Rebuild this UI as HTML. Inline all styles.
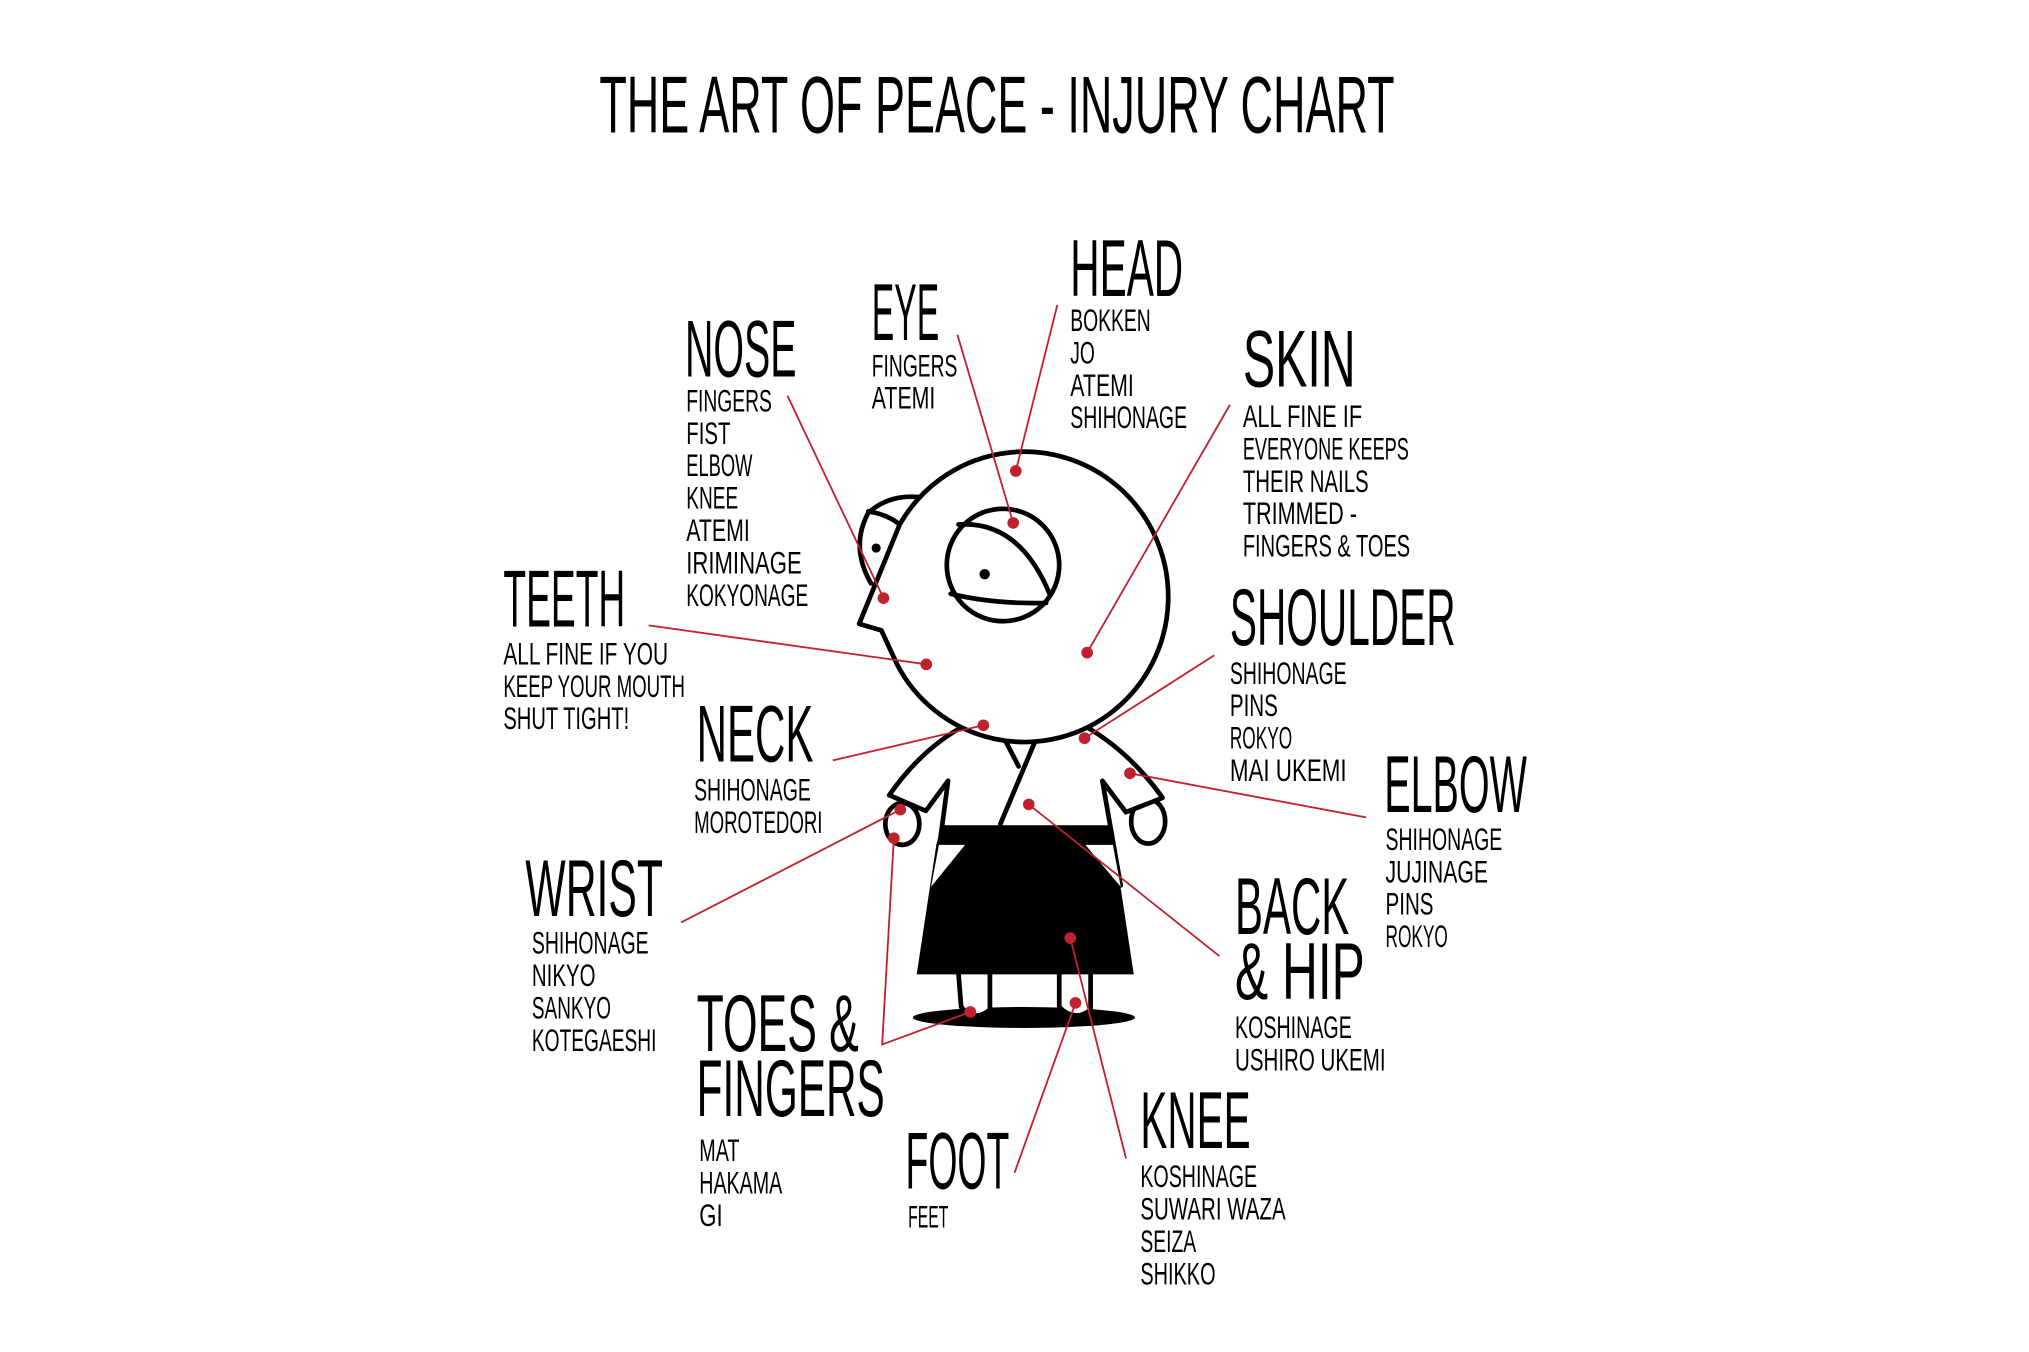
<!DOCTYPE html>
<html><head><meta charset="utf-8"><style>
html,body{margin:0;padding:0;background:#fff;}
svg{display:block;}
text{font-family:"Liberation Sans",sans-serif;fill:#000;}
.b{font-size:62px;}
.s{font-size:24px;}
</style></head><body>
<svg width="2029" height="1352" viewBox="0 0 1564 1042" xmlns="http://www.w3.org/2000/svg">
<rect width="1564" height="1042" fill="#fff"/>
<text class="b" x="462" y="102" textLength="613" lengthAdjust="spacingAndGlyphs">THE ART OF PEACE - INJURY CHART</text>

<!-- figure -->
<g transform="scale(1.008)" fill="none" stroke="#000" stroke-width="3.6" stroke-linejoin="round" stroke-linecap="round">
 <ellipse cx="783" cy="778" rx="85" ry="8" fill="#000" stroke="none"/>
 <!-- legs -->
 <path d="M733,745 L735,770 Q745,782 757,772 L757,745" fill="#fff"/>
 <path d="M810,745 L810,770 Q822,782 834,772 L834,745" fill="#fff"/>
 <!-- hands -->
 <ellipse cx="690" cy="630" rx="13" ry="16" fill="#fff"/>
 <ellipse cx="878" cy="628" rx="13" ry="17" fill="#fff"/>
 <!-- gi -->
 <path d="M739,554 Q705,572 680,608 L708,620 L725,597 L714,680 L857,677 L843,597 L861,621 L889,610 Q862,572 824,552 Z" fill="#fff"/>
 <path d="M766,561 L779,586 M794,561 L765,630"/>
 <!-- hakama -->
 <path d="M720,631 L849,631 L852,646 L867,745 L701,745 L716,646 Z" fill="#000" stroke="none"/>
 <path d="M718,646 L738,646 L712,678 Z" fill="#fff" stroke="none"/>
 <path d="M830,646 L851,646 L857,678 Z" fill="#fff" stroke="none"/>
 <!-- ear -->
 <path d="M702,380 Q680,378 664,392 Q650,418 666,446" fill="#fff"/>
 <path d="M664,391 Q678,393 688,401"/>
 <circle cx="670" cy="419" r="3.5" fill="#000" stroke="none"/>
 <!-- head -->
 <path d="M688,401 A110 111 0 1 1 686,508 L674,482 L657,477 Z" fill="#fff"/>
 <!-- eye -->
 <ellipse cx="767" cy="432" rx="43" ry="43" fill="#fff"/>
 <path d="M733,401 Q780,398 803,455"/>
 <path d="M727,454 Q760,462 800,461"/>
 <circle cx="753" cy="439" r="4" fill="#000" stroke="none"/>
</g>

<!-- connectors -->
<g stroke="#c0212f" stroke-width="1.4" fill="none">
 <line x1="783" y1="363" x2="815" y2="235"/>
 <line x1="781" y1="403" x2="738" y2="258"/>
 <line x1="681" y1="461" x2="607" y2="305"/>
 <line x1="838" y1="503" x2="948" y2="312"/>
 <line x1="714" y1="512" x2="500" y2="482"/>
 <line x1="758" y1="559" x2="642" y2="586"/>
 <line x1="836" y1="569" x2="936" y2="505"/>
 <line x1="871" y1="596" x2="1053" y2="630"/>
 <line x1="793" y1="620" x2="940" y2="737"/>
 <line x1="694" y1="624" x2="525" y2="711"/>
 <polyline points="689,646 680,805 748,780"/>
 <line x1="829" y1="773" x2="782" y2="904"/>
 <line x1="825" y1="723" x2="868" y2="893"/>
</g>
<g fill="#c0212f">
 <circle cx="783" cy="363" r="4.5"/><circle cx="781" cy="403" r="4.5"/>
 <circle cx="681" cy="461" r="4.5"/><circle cx="838" cy="503" r="4.5"/>
 <circle cx="714" cy="512" r="4.5"/><circle cx="758" cy="559" r="4.5"/>
 <circle cx="836" cy="569" r="4.5"/><circle cx="871" cy="596" r="4.5"/>
 <circle cx="793" cy="620" r="4.5"/><circle cx="694" cy="624" r="4.5"/>
 <circle cx="689" cy="646" r="4.5"/><circle cx="748" cy="780" r="4.5"/>
 <circle cx="825" cy="723" r="4.5"/><circle cx="829" cy="773" r="4.5"/>
</g>

<!-- HEAD -->
<text class="b" x="825" y="228" textLength="87" lengthAdjust="spacingAndGlyphs">HEAD</text>
<text class="s" x="825" y="255" textLength="62" lengthAdjust="spacingAndGlyphs">BOKKEN</text>
<text class="s" x="825" y="280" textLength="19" lengthAdjust="spacingAndGlyphs">JO</text>
<text class="s" x="825" y="305" textLength="49" lengthAdjust="spacingAndGlyphs">ATEMI</text>
<text class="s" x="825" y="330" textLength="90" lengthAdjust="spacingAndGlyphs">SHIHONAGE</text>
<!-- EYE -->
<text class="b" x="672" y="262" textLength="52" lengthAdjust="spacingAndGlyphs">EYE</text>
<text class="s" x="672" y="290" textLength="66" lengthAdjust="spacingAndGlyphs">FINGERS</text>
<text class="s" x="672" y="315" textLength="49" lengthAdjust="spacingAndGlyphs">ATEMI</text>
<!-- NOSE -->
<text class="b" x="528" y="290" textLength="86" lengthAdjust="spacingAndGlyphs">NOSE</text>
<text class="s" x="529" y="317" textLength="66" lengthAdjust="spacingAndGlyphs">FINGERS</text>
<text class="s" x="529" y="342" textLength="34" lengthAdjust="spacingAndGlyphs">FIST</text>
<text class="s" x="529" y="367" textLength="51" lengthAdjust="spacingAndGlyphs">ELBOW</text>
<text class="s" x="529" y="392" textLength="40" lengthAdjust="spacingAndGlyphs">KNEE</text>
<text class="s" x="529" y="417" textLength="49" lengthAdjust="spacingAndGlyphs">ATEMI</text>
<text class="s" x="529" y="442" textLength="89" lengthAdjust="spacingAndGlyphs">IRIMINAGE</text>
<text class="s" x="529" y="467" textLength="94" lengthAdjust="spacingAndGlyphs">KOKYONAGE</text>
<!-- SKIN -->
<text class="b" x="958" y="298" textLength="87" lengthAdjust="spacingAndGlyphs">SKIN</text>
<text class="s" x="958" y="329" textLength="92" lengthAdjust="spacingAndGlyphs">ALL FINE IF</text>
<text class="s" x="958" y="354" textLength="128" lengthAdjust="spacingAndGlyphs">EVERYONE KEEPS</text>
<text class="s" x="958" y="379" textLength="97" lengthAdjust="spacingAndGlyphs">THEIR NAILS</text>
<text class="s" x="958" y="404" textLength="88" lengthAdjust="spacingAndGlyphs">TRIMMED -</text>
<text class="s" x="958" y="429" textLength="129" lengthAdjust="spacingAndGlyphs">FINGERS &amp; TOES</text>
<!-- TEETH -->
<text class="b" x="388" y="483" textLength="94" lengthAdjust="spacingAndGlyphs">TEETH</text>
<text class="s" x="388" y="512" textLength="127" lengthAdjust="spacingAndGlyphs">ALL FINE IF YOU</text>
<text class="s" x="388" y="537" textLength="140" lengthAdjust="spacingAndGlyphs">KEEP YOUR MOUTH</text>
<text class="s" x="388" y="562" textLength="97" lengthAdjust="spacingAndGlyphs">SHUT TIGHT!</text>
<!-- SHOULDER -->
<text class="b" x="948" y="497" textLength="174" lengthAdjust="spacingAndGlyphs">SHOULDER</text>
<text class="s" x="948" y="527" textLength="90" lengthAdjust="spacingAndGlyphs">SHIHONAGE</text>
<text class="s" x="948" y="552" textLength="37" lengthAdjust="spacingAndGlyphs">PINS</text>
<text class="s" x="948" y="577" textLength="48" lengthAdjust="spacingAndGlyphs">ROKYO</text>
<text class="s" x="948" y="602" textLength="90" lengthAdjust="spacingAndGlyphs">MAI UKEMI</text>
<!-- NECK -->
<text class="b" x="537" y="587" textLength="90" lengthAdjust="spacingAndGlyphs">NECK</text>
<text class="s" x="535" y="617" textLength="90" lengthAdjust="spacingAndGlyphs">SHIHONAGE</text>
<text class="s" x="535" y="642" textLength="99" lengthAdjust="spacingAndGlyphs">MOROTEDORI</text>
<!-- ELBOW -->
<text class="b" x="1067" y="626" textLength="110" lengthAdjust="spacingAndGlyphs">ELBOW</text>
<text class="s" x="1068" y="655" textLength="90" lengthAdjust="spacingAndGlyphs">SHIHONAGE</text>
<text class="s" x="1068" y="680" textLength="79" lengthAdjust="spacingAndGlyphs">JUJINAGE</text>
<text class="s" x="1068" y="705" textLength="37" lengthAdjust="spacingAndGlyphs">PINS</text>
<text class="s" x="1068" y="730" textLength="48" lengthAdjust="spacingAndGlyphs">ROKYO</text>
<!-- WRIST -->
<text class="b" x="405" y="706" textLength="106" lengthAdjust="spacingAndGlyphs">WRIST</text>
<text class="s" x="410" y="735" textLength="90" lengthAdjust="spacingAndGlyphs">SHIHONAGE</text>
<text class="s" x="410" y="760" textLength="49" lengthAdjust="spacingAndGlyphs">NIKYO</text>
<text class="s" x="410" y="785" textLength="61" lengthAdjust="spacingAndGlyphs">SANKYO</text>
<text class="s" x="410" y="810" textLength="96" lengthAdjust="spacingAndGlyphs">KOTEGAESHI</text>
<!-- BACK & HIP -->
<text class="b" x="952" y="720" textLength="88" lengthAdjust="spacingAndGlyphs">BACK</text>
<text class="b" x="952" y="770" textLength="100" lengthAdjust="spacingAndGlyphs">&amp; HIP</text>
<text class="s" x="952" y="800" textLength="90" lengthAdjust="spacingAndGlyphs">KOSHINAGE</text>
<text class="s" x="952" y="825" textLength="116" lengthAdjust="spacingAndGlyphs">USHIRO UKEMI</text>
<!-- TOES & FINGERS -->
<text class="b" x="537" y="810" textLength="125" lengthAdjust="spacingAndGlyphs">TOES &amp;</text>
<text class="b" x="537" y="860" textLength="145" lengthAdjust="spacingAndGlyphs">FINGERS</text>
<text class="s" x="539" y="895" textLength="31" lengthAdjust="spacingAndGlyphs">MAT</text>
<text class="s" x="539" y="920" textLength="64" lengthAdjust="spacingAndGlyphs">HAKAMA</text>
<text class="s" x="539" y="945" textLength="18" lengthAdjust="spacingAndGlyphs">GI</text>
<!-- FOOT -->
<text class="b" x="698" y="916" textLength="80" lengthAdjust="spacingAndGlyphs">FOOT</text>
<text class="s" x="700" y="946" textLength="31" lengthAdjust="spacingAndGlyphs">FEET</text>
<!-- KNEE -->
<text class="b" x="879" y="885" textLength="85" lengthAdjust="spacingAndGlyphs">KNEE</text>
<text class="s" x="879" y="915" textLength="90" lengthAdjust="spacingAndGlyphs">KOSHINAGE</text>
<text class="s" x="879" y="940" textLength="112" lengthAdjust="spacingAndGlyphs">SUWARI WAZA</text>
<text class="s" x="879" y="965" textLength="43" lengthAdjust="spacingAndGlyphs">SEIZA</text>
<text class="s" x="879" y="990" textLength="58" lengthAdjust="spacingAndGlyphs">SHIKKO</text>
</svg>
</body></html>
